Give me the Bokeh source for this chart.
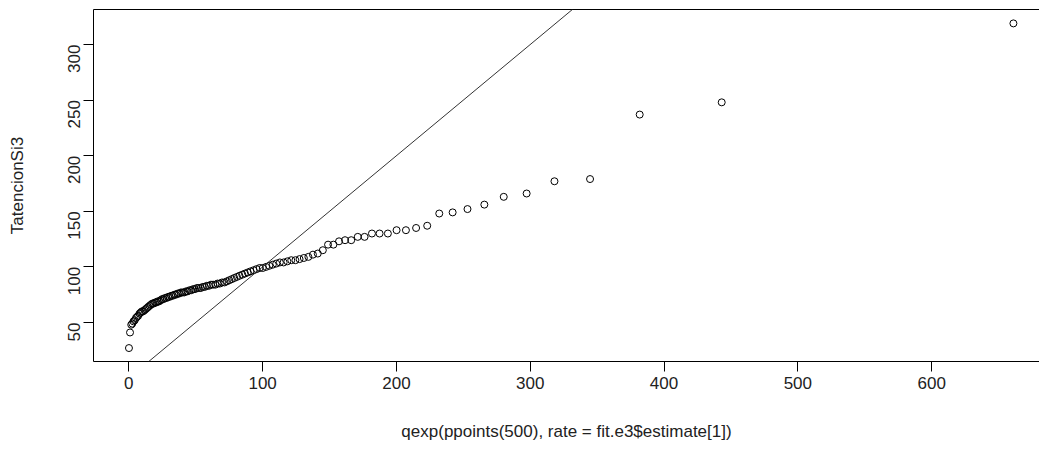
import math
from bokeh.plotting import figure
from bokeh.models import Range1d, LinearAxis, FixedTicker, Slope, ColumnDataSource
from bokeh.embed import file_html
from bokeh.resources import INLINE

# theoretical exponential quantiles (x) and sorted sample (y)
theoretical_q = [0.1, 0.9, 1.8, 2.6, 3.5, 4.4, 5.3, 6.1, 7.0, 8.0, 8.9, 9.8, 10.7, 11.7, 12.6,
                 13.6, 14.5, 15.5, 16.5, 17.5, 18.5, 19.6, 20.6, 21.6, 22.7, 23.8, 24.8, 25.9,
                 27.0, 28.2, 29.3, 30.4, 31.6, 32.8, 34.0, 35.2, 36.4, 37.6, 38.9, 40.1, 41.4,
                 42.7, 44.0, 45.4, 46.7, 48.1, 49.5, 50.9, 52.3, 53.8, 55.3, 56.8, 58.3, 59.9,
                 61.4, 63.0, 64.7, 66.3, 68.0, 69.7, 71.5, 73.3, 75.1, 77.0, 78.8, 80.8, 82.7,
                 84.8, 86.8, 88.9, 91.0, 93.3, 95.5, 97.8, 100.1, 102.6, 105.0, 107.6, 110.2,
                 112.9, 115.7, 118.5, 121.4, 124.5, 127.6, 130.8, 134.2, 137.6, 141.2, 145.0,
                 148.9, 152.9, 157.1, 161.6, 166.2, 171.1, 176.2, 181.7, 187.4, 193.6, 200.1,
                 207.1, 214.7, 223.0, 232.0, 242.0, 253.1, 265.7, 280.2, 297.3, 318.1, 344.7,
                 381.8, 443.1, 661.1]
tatencion_si3 = [27, 41, 48, 49, 51, 52, 54, 55, 56, 58, 59, 60, 60, 61, 62,
                 63, 64, 65, 66, 67, 67, 68, 68, 69, 69, 70, 71, 71,
                 72, 72, 73, 73, 74, 74, 75, 75, 76, 76, 77, 77, 77,
                 78, 78, 79, 79, 80, 80, 81, 81, 81, 82, 82, 83, 83,
                 84, 84, 84, 85, 85, 86, 86, 87, 88, 89, 90, 91, 92,
                 93, 94, 95, 96, 97, 98, 99, 99, 100, 101, 102, 103,
                 104, 104, 105, 106, 106, 107, 108, 109, 111, 112, 115,
                 120, 120, 123, 124, 124, 127, 127, 130, 130, 130, 133,
                 133, 135, 137, 148, 149, 152, 156, 163, 166, 177, 179,
                 237, 248, 319]
x_ticks = [0, 100, 200, 300, 400, 500, 600]
y_ticks = [50, 100, 150, 200, 250, 300]
x_title = "qexp(ppoints(500), rate = fit.e3$estimate[1])"
y_title = "TatencionSi3"

FONT = "Liberation Sans"
TXT = "#222222"

p = figure(width=1039, height=450, output_backend="svg", toolbar_location=None,
           x_range=Range1d(-26.4, 680.6), y_range=Range1d(14.9, 331.5),
           x_axis_location=None, y_axis_location=None,
           min_border_left=93, min_border_right=0, min_border_top=9, min_border_bottom=89)
p.outline_line_color = None
p.xgrid.visible = False
p.ygrid.visible = False
p.background_fill_color = "white"
p.border_fill_color = "white"

xaxis = LinearAxis(ticker=FixedTicker(ticks=x_ticks), axis_label=x_title)
yaxis = LinearAxis(ticker=FixedTicker(ticks=y_ticks), axis_label=y_title)
for ax in (xaxis, yaxis):
    ax.axis_line_color = "black"
    ax.axis_line_width = 1
    ax.major_tick_line_color = "black"
    ax.major_tick_out = 10
    ax.major_tick_in = 0
    ax.minor_tick_line_color = None
    ax.major_label_text_font = FONT
    ax.major_label_text_font_size = "17px"
    ax.major_label_text_color = TXT
    ax.axis_label_text_font = FONT
    ax.axis_label_text_font_size = "17px"
    ax.axis_label_text_font_style = "normal"
    ax.axis_label_text_color = TXT
xaxis.major_label_standoff = 5
xaxis.axis_label_standoff = 30
yaxis.major_label_standoff = 9
yaxis.major_label_orientation = math.pi / 2
yaxis.axis_label_standoff = 33
p.add_layout(xaxis, "below")
p.add_layout(yaxis, "left")

top = LinearAxis(ticker=FixedTicker(ticks=[]), major_label_text_font_size="0px",
                 major_tick_out=0, major_tick_in=0, major_label_standoff=0,
                 minor_tick_line_color=None, axis_line_color="black")
p.add_layout(top, "above")

src = ColumnDataSource(dict(x=theoretical_q, y=tatencion_si3))
p.scatter("x", "y", source=src, marker="circle", size=7, fill_color=None,
          line_color="black", line_width=1)
p.add_layout(Slope(gradient=1, y_intercept=0, line_color="#333333", line_width=1))

open("out.html", "w").write(file_html(p, INLINE))
